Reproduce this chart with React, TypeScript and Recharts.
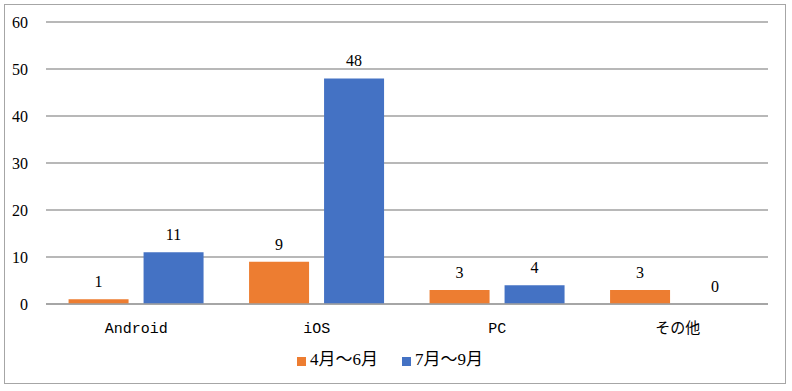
import React from "react";
import { BarChart, Bar, XAxis, YAxis, CartesianGrid, Legend, LabelList } from "recharts";

const categories = ["Android", "iOS", "PC", "その他"];
const aprJun = [1, 9, 3, 3];
const julSep = [11, 48, 4, 0];
const yTicks = [0, 10, 20, 30, 40, 50, 60];

const data = categories.map((name, i) => ({ name, q1: aprJun[i], q2: julSep[i] }));

const numFont = "'Times New Roman', 'Liberation Serif', serif";
const catFont = "'Courier New', 'Liberation Mono', 'Noto Sans CJK JP', monospace";

const TopLabel = (props: any) => {
  const { x, y, width, value } = props;
  if (value === undefined || value === null) return null;
  return (
    <text
      x={Number(x) + Number(width) / 2}
      y={Number(y) - 12}
      textAnchor="middle"
      fill="#000"
      fontSize={16}
      style={{ fontFamily: numFont }}
    >
      {value}
    </text>
  );
};

export default function App() {
  return (
    <div style={{ position: "absolute", left: 0, top: 0, width: 792, height: 391, background: "#fff" }}>
      <div
        style={{
          position: "absolute",
          left: 4,
          top: 4,
          width: 782,
          height: 380,
          border: "1px solid #a6a6a6",
          boxSizing: "border-box",
        }}
      />
      <BarChart
        width={792}
        height={391}
        data={data}
        margin={{ top: 22, right: 24, left: 0, bottom: 0 }}
        barCategoryGap="12.5%"
        barGap={15}
      >
        <CartesianGrid vertical={false} stroke="#a0a0a0" strokeWidth={1.5} />
        <XAxis
          dataKey="name"
          axisLine={{ stroke: "#a0a0a0", strokeWidth: 1.5 }}
          tickLine={false}
          tick={{ fill: "#000", fontSize: 15, style: { fontFamily: catFont } }}
          tickMargin={12}
          height={41}
        />
        <YAxis
          domain={[0, 60]}
          ticks={yTicks}
          axisLine={false}
          tickLine={false}
          width={46}
          tickMargin={12}
          tick={{ fill: "#000", fontSize: 16, style: { fontFamily: numFont } }}
        />
        <Legend
          verticalAlign="bottom"
          iconType="square"
          iconSize={9}
          height={46}
          wrapperStyle={{
            fontFamily: "'Times New Roman', 'Liberation Serif', 'Noto Sans CJK JP', serif",
            fontSize: 17,
            color: "#000",
            paddingTop: 0,
            paddingLeft: 36,
            boxSizing: "border-box",
          }}
          formatter={(v) => <span style={{ color: "#000", marginRight: 14 }}>{v}</span>}
        />
        <Bar dataKey="q1" name="4月～6月" fill="#ed7d31" minPointSize={0.01} isAnimationActive={false}>
          <LabelList dataKey="q1" content={TopLabel} />
        </Bar>
        <Bar dataKey="q2" name="7月～9月" fill="#4472c4" minPointSize={0.01} isAnimationActive={false}>
          <LabelList dataKey="q2" content={TopLabel} />
        </Bar>
      </BarChart>
    </div>
  );
}
